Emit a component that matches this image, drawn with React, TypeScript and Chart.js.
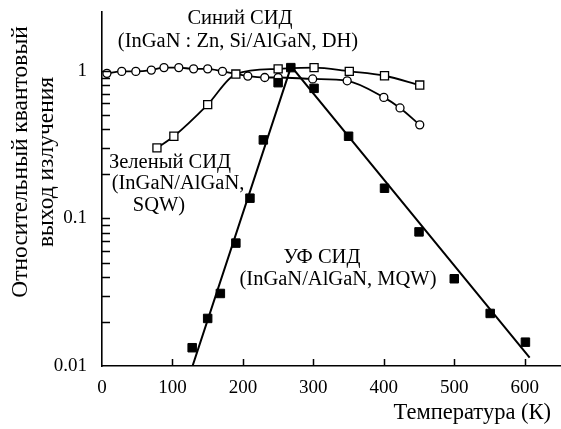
import React, { useEffect, useRef } from 'react';
import { Chart, registerables } from 'chart.js';
Chart.register(...registerables);

// Blue LED (InGaN:Zn, Si/AlGaN, DH) – open circles
const blueT = [7, 28, 48, 70, 88, 109, 130, 150, 171, 207, 231, 250, 299, 348, 400, 423, 451];
const blueV = [0.96, 0.99, 0.99, 1.01, 1.05, 1.05, 1.03, 1.03, 0.99, 0.92, 0.9, 0.9, 0.88, 0.855, 0.66, 0.56, 0.43];

// Green LED (InGaN/AlGaN, SQW) – open squares
const greenT = [78, 102, 150, 190, 250, 301, 351, 401, 451];
const greenV = [0.3, 0.36, 0.59, 0.95, 1.03, 1.05, 0.99, 0.925, 0.8];

// UV LED (InGaN/AlGaN, MQW) – filled squares
const uvT = [128, 150, 168, 190, 210, 229, 250, 268, 301, 350, 401, 450, 500, 551, 601];
const uvV = [0.0133, 0.021, 0.031, 0.068, 0.137, 0.34, 0.83, 1.05, 0.76, 0.36, 0.16, 0.081, 0.039, 0.0227, 0.0145];

// UV fitted straight lines
const uvFitT = [128.5, 268.5, 607];
const uvFitV = [0.01, 1.07, 0.0114];

// axis ticks
const xTickValues = [100, 200, 300, 400, 500, 600];
const yTickValues = [0.02, 0.03, 0.04, 0.05, 0.06, 0.07, 0.08, 0.09, 0.1, 0.2, 0.3, 0.4, 0.5, 0.6, 0.7, 0.8, 0.9, 1];
const yLabelValues = [0.01, 0.1, 1];

const xTitle = 'Температура (К)';
const yTitle = ['Относительный квантовый', 'выход излучения'];
const notes = [
  { text: 'Синий СИД', x: 240, y: 19 },
  { text: '(InGaN : Zn, Si/AlGaN, DH)', x: 238, y: 42 },
  { text: 'Зеленый СИД', x: 170, y: 163 },
  { text: '(InGaN/AlGaN,', x: 178, y: 184 },
  { text: 'SQW)', x: 159, y: 206 },
  { text: 'УФ СИД', x: 322, y: 258 },
  { text: '(InGaN/AlGaN, MQW)', x: 338, y: 280 },
];

const SERIF = '"Liberation Serif", "Times New Roman", serif';

const pts = (xs: number[], ys: number[]) => xs.map((x, i) => ({ x, y: ys[i] }));

export default function App() {
  const ref = useRef<HTMLCanvasElement>(null);
  useEffect(() => {
    document.body.style.margin = '0';
    const canvas = ref.current;
    if (!canvas) return;

    const decor = {
      id: 'decor',
      afterDraw(chart: any) {
        const { ctx, chartArea, scales } = chart;
        const x = scales.x;
        const y = scales.y;
        ctx.save();
        ctx.strokeStyle = '#000';
        ctx.lineWidth = 1.5;
        ctx.beginPath();
        xTickValues.forEach((v) => {
          const px = Math.round(x.getPixelForValue(v)) + 0.5;
          ctx.moveTo(px, chartArea.bottom);
          ctx.lineTo(px, chartArea.bottom - 7);
        });
        yTickValues.forEach((v) => {
          const py = Math.round(y.getPixelForValue(v)) + 0.5;
          ctx.moveTo(chartArea.left, py);
          ctx.lineTo(chartArea.left + 8, py);
        });
        ctx.stroke();

        ctx.fillStyle = '#000';
        ctx.textBaseline = 'middle';
        ctx.textAlign = 'center';
        ctx.font = `20.5px ${SERIF}`;
        notes.forEach((n) => ctx.fillText(n.text, n.x, n.y));

        ctx.font = `22.5px ${SERIF}`;
        ctx.textAlign = 'right';
        ctx.fillText(xTitle, 551, 413);

        ctx.font = `23.5px ${SERIF}`;
        ctx.textAlign = 'center';
        ctx.save();
        ctx.translate(21, 162);
        ctx.rotate(-Math.PI / 2);
        ctx.fillText(yTitle[0], 0, 0);
        ctx.restore();
        ctx.save();
        ctx.translate(47, 162);
        ctx.rotate(-Math.PI / 2);
        ctx.fillText(yTitle[1], 0, 0);
        ctx.restore();
        ctx.restore();
      },
    };

    const chart = new Chart(canvas, {
      type: 'line',
      data: {
        datasets: [
          {
            data: pts(uvT, uvV),
            showLine: false,
            pointStyle: 'rect',
            pointRadius: 6,
            pointBackgroundColor: '#000',
            pointBorderColor: '#000',
            pointBorderWidth: 1,
            order: 0,
          },
          {
            data: pts(uvFitT, uvFitV),
            borderColor: '#000',
            borderWidth: 2,
            pointRadius: 0,
            tension: 0,
            order: 3,
          },
          {
            data: pts(blueT, blueV),
            borderColor: '#000',
            borderWidth: 1.8,
            pointStyle: 'circle',
            pointRadius: 4,
            pointBackgroundColor: '#fff',
            pointBorderColor: '#000',
            pointBorderWidth: 1.3,
            cubicInterpolationMode: 'monotone',
            order: 2,
          },
          {
            data: pts(greenT, greenV),
            borderColor: '#000',
            borderWidth: 1.8,
            pointStyle: 'rect',
            pointRadius: 5.7,
            pointBackgroundColor: '#fff',
            pointBorderColor: '#000',
            pointBorderWidth: 1.3,
            cubicInterpolationMode: 'monotone',
            order: 1,
          },
        ],
      },
      options: {
        responsive: false,
        animation: false,
        events: [],
        layout: { autoPadding: false, padding: { top: 12, left: 0, right: 0, bottom: 0 } },
        plugins: { legend: { display: false }, tooltip: { enabled: false } },
        scales: {
          x: {
            type: 'linear',
            min: 0,
            max: 651.5,
            afterFit: (s: any) => {
              s.height = 63;
              s.paddingLeft = 0;
              s.paddingRight = 0;
            },
            grid: { display: true, drawOnChartArea: false, drawTicks: false },
            border: { display: true, color: '#000', width: 1.6 },
            ticks: {
              stepSize: 100,
              includeBounds: false,
              padding: 11,
              color: '#000',
              font: { family: SERIF, size: 19 },
              maxRotation: 0,
              callback: (v: any) => String(v),
            },
          },
          y: {
            type: 'logarithmic',
            min: 0.01,
            max: 2.5,
            afterFit: (s: any) => {
              s.width = 102;
              s.paddingTop = 0;
              s.paddingBottom = 0;
            },
            grid: { display: true, drawOnChartArea: false, drawTicks: false },
            border: { display: true, color: '#000', width: 1.6 },
            ticks: {
              autoSkip: false,
              padding: 15,
              color: '#000',
              font: { family: SERIF, size: 19 },
              callback: (v: any) => {
                const n = Number(v);
                return yLabelValues.some((l) => Math.abs(l - n) < l * 1e-6) ? String(n) : '';
              },
            },
          },
        },
      },
      plugins: [decor],
    });
    return () => chart.destroy();
  }, []);

  return (
    <div style={{ width: 561, height: 429, position: 'relative', background: '#fff' }}>
      <canvas ref={ref} width={561} height={429} style={{ display: 'block' }} />
    </div>
  );
}
